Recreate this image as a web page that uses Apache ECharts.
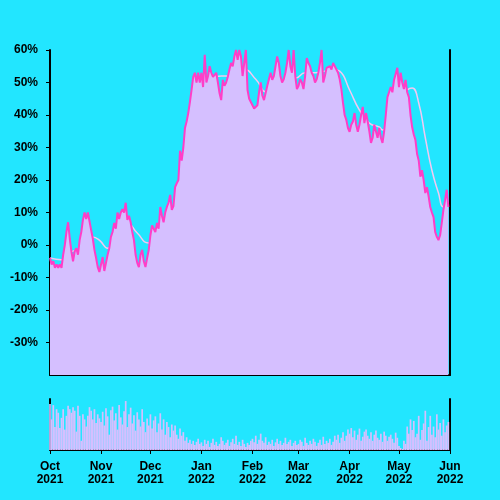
<!DOCTYPE html>
<html>
<head>
<meta charset="utf-8">
<script src="https://cdn.jsdelivr.net/npm/echarts@6/dist/echarts.min.js"></script>
<style>
html, body { margin: 0; padding: 0; background: #22e6ff; }
#chart { width: 500px; height: 500px; }
</style>
</head>
<body>
<div id="chart"></div>
<script>
// daily values, Oct 1 2021 .. May 31 2022 (axis runs to Jun 1)
const startDate = Date.UTC(2021, 9, 1)
const dayCount = 244
const monthNames = ['Jan', 'Feb', 'Mar', 'Apr', 'May', 'Jun', 'Jul', 'Aug', 'Sep', 'Oct', 'Nov', 'Dec']

// cumulative return, %
const returnPct = [
  -4, -6, -5, -7, -6, -7, -6, -7, -3, 0,
  4, 7, 2, -2, -5, -2, -1, -3, 1.5, 4,
  7.7, 10, 8, 10, 10, 4.6, 2, -1.5, -4, -6.8,
  -8.3, -6, -3.7, -8, -8.3, -3, -1, 2.5, 4, 6.8,
  5, 10, 8, 10, 11, 10, 13, 7.7, 9, 7,
  4, 1.5, -3, -5.5, -6.8, -3, -1.5, -5, -6.8, -4,
  -1.5, 3, 6, 5.5, 4, 6.8, 5, 11.7, 9, 7,
  10, 11.7, 13, 15.4, 10.8, 12, 17.8, 19, 20, 29,
  26, 30, 36, 38, 40.6, 44, 47.7, 51.7, 53, 50,
  53, 50, 53, 48.6, 58.5, 50, 52, 55, 53, 51.7,
  52, 53, 50, 46.7, 44.6, 50.8, 49, 50, 51.7, 54,
  56, 55, 58, 60, 57, 60, 58, 52, 56, 60,
  47.7, 45, 44.6, 43, 42, 41.5, 43, 47, 50, 46,
  44.6, 45, 49, 51, 53, 50.8, 52, 55, 58, 56,
  52, 50, 51, 53, 56, 60, 55, 53, 60, 52,
  48, 49, 51, 50, 48, 52, 57.5, 56, 55, 53,
  52, 50, 51, 53, 56, 60, 50, 52, 54.5, 54,
  55, 54, 56, 55, 54, 53, 51, 48, 43.7, 40,
  38.5, 36, 34.8, 37, 38, 40.6, 37, 34.8, 37, 40,
  42.5, 37.5, 40.6, 38, 35, 31.4, 33, 37, 35, 33,
  36, 33, 31.4, 35, 40, 45.5, 46, 48.6, 47, 50.8,
  51, 54.5, 48.6, 53, 50, 48, 50.8, 47, 45.5, 40,
  36.3, 34, 32.3, 28, 26, 21, 23, 20, 16, 17.8,
  15, 11.7, 10, 8.6, 4, 2.5, 1.5, 3, 6.8, 10.8,
  13.8, 17, 11.7
]

// moving average, read at a few days
const maDays = [0, 7, 13, 18, 26, 30, 35, 41, 47, 53, 60, 67, 76, 85, 91, 95, 99, 104, 111, 115, 118, 125, 132, 137, 141, 144, 149, 155, 161, 167, 172, 176, 182, 188, 194, 200, 202, 208, 213, 217, 220, 224, 228, 232, 236, 239, 242]
const maValues = [-4, -4.5, -2, -1.5, 2.5, 1.5, -1, 3, 6.8, 3.7, 0.6, 2, 8, 25, 42, 48, 51.5, 52, 52, 53, 54, 51, 47, 47.5, 48.5, 51.3, 51.3, 53, 53, 53.5, 54, 53.5, 47.7, 41.5, 37.5, 36.3, 35.4, 40, 45, 47.7, 48.3, 43.7, 33, 23, 16, 11.7, 13]

// volume, relative
const volume = [
  90, 60, 88, 45, 80, 73, 43, 63, 80, 40, 67, 87, 80, 73, 84, 77, 36, 87, 67, 18, 70, 60, 46, 67, 84, 77, 60, 80, 53, 70, 62,
  55, 75, 48, 82, 66, 30, 78, 85, 58, 72, 40, 88, 64, 50, 76, 96, 45, 70, 83, 52, 68, 38, 74, 60, 46, 80, 55, 35, 62, 48,
  70, 42, 58, 66, 35, 52, 72, 40, 60, 30, 55, 45, 25, 50, 38, 48, 30, 22, 42, 28, 35, 18, 25, 14, 20, 12, 18, 10, 16, 22, 12,
  15, 8, 20, 12, 18, 6, 14, 22, 10, 16, 8, 12, 25, 18, 10, 14, 20, 8, 15, 22, 12, 28, 10, 16, 8, 20, 12, 6, 14, 10, 18,
  22, 15, 28, 12, 20, 32, 18, 14, 25, 10, 16, 12, 20, 8, 15, 22, 12, 18, 10, 14, 24, 12, 16, 20, 8, 14, 18, 10,
  12, 20, 16, 8, 24, 14, 10, 18, 12, 22, 16, 8, 14, 20, 10, 26, 12, 18, 14, 22, 10, 16, 28, 20, 30, 14, 24, 35, 18, 28, 40,
  32, 43, 25, 38, 20, 30, 42, 18, 26, 36, 40, 28, 22, 35, 18, 30, 38, 24, 20, 32, 16, 36, 28, 18, 26, 30, 22, 14, 34, 24,
  8, 4, 2, 18, 12, 46, 32, 60, 39, 57, 25, 32, 67, 20, 39, 52, 77, 18, 45, 67, 30, 46, 25, 70, 40, 53, 28, 60, 35, 48, 55
]

const days = []
for (let i = 0; i < dayCount; i++) {
  days.push(new Date(startDate + i * 864e5).toISOString().slice(0, 10))
}
const maData = maDays.map((d, i) => [d, maValues[i]])
const isMonthStart = (i, v) => v.slice(8) === '01'

const black = '#000'
const textStyle = { color: black, fontFamily: 'Liberation Sans, Arial, sans-serif', fontSize: 12, fontWeight: 'bold' }

const myChart = echarts.init(document.getElementById('chart'))
myChart.setOption({
  backgroundColor: '#22e6ff',
  animation: false,
  grid: [
    { left: 50, right: 50, top: 50, bottom: 125 },
    { left: 50, right: 50, top: 399, bottom: 50 },
  ],
  xAxis: [
    {
      type: 'category', gridIndex: 0, data: days, boundaryGap: false,
      axisLine: { onZero: false, lineStyle: { color: black, width: 2 } },
      axisTick: { show: false }, axisLabel: { show: false }, splitLine: { show: false },
    },
    {
      type: 'category', gridIndex: 1, data: days, boundaryGap: false,
      axisLine: { onZero: false, lineStyle: { color: black, width: 2 } },
      axisTick: { interval: isMonthStart, length: 4, lineStyle: { color: black, width: 1 } },
      axisLabel: {
        interval: isMonthStart, ...textStyle, margin: 10, lineHeight: 13,
        formatter: (v) => monthNames[+v.slice(5, 7) - 1] + '\n' + v.slice(0, 4),
      },
    },
  ],
  yAxis: [
    {
      type: 'value', gridIndex: 0, min: -40, max: 60, interval: 10,
      axisLine: { show: true, lineStyle: { color: black, width: 2 } },
      axisTick: { show: true, length: 4, lineStyle: { color: black } },
      axisLabel: { ...textStyle, margin: 12, formatter: '{value}%', showMinLabel: false },
      splitLine: { show: false },
    },
    {
      type: 'value', gridIndex: 0, position: 'right', min: -40, max: 60,
      axisLine: { show: true, onZero: false, lineStyle: { color: black, width: 2 } },
      axisTick: { show: false }, axisLabel: { show: false }, splitLine: { show: false },
    },
    {
      type: 'value', gridIndex: 1, min: 0, max: 100,
      axisLine: { show: true, lineStyle: { color: black, width: 2 } },
      axisTick: { show: false }, axisLabel: { show: false }, splitLine: { show: false },
    },
    {
      type: 'value', gridIndex: 1, position: 'right', min: 0, max: 100,
      axisLine: { show: true, onZero: false, lineStyle: { color: black, width: 2 } },
      axisTick: { show: false }, axisLabel: { show: false }, splitLine: { show: false },
    },
  ],
  series: [
    {
      // drawn under the area, so only seen where it sits above the return line
      name: 'ma', type: 'line', xAxisIndex: 0, yAxisIndex: 0, data: maData, z: 1,
      smooth: true, symbol: 'none', lineStyle: { color: '#f4c8f2', width: 1.5 },
    },
    {
      name: 'return', type: 'line', xAxisIndex: 0, yAxisIndex: 0, data: returnPct, z: 2,
      symbol: 'none', lineStyle: { color: '#ff3ec8', width: 2 },
      areaStyle: { color: '#d5bfff', opacity: 1, origin: 'start' },
    },
    {
      name: 'volume', type: 'bar', xAxisIndex: 1, yAxisIndex: 2, data: volume,
      barWidth: 1.7, itemStyle: { color: '#d5bfff' },
    },
  ],
})
</script>
</body>
</html>
